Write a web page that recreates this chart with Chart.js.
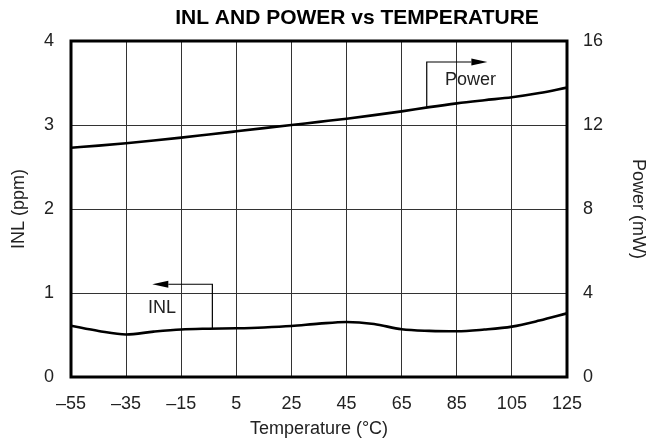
<!DOCTYPE html>
<html>
<head>
<meta charset="utf-8">
<script src="https://cdn.jsdelivr.net/npm/chart.js@4.4.0/dist/chart.umd.min.js"></script>
<style>
    html, body { margin: 0; padding: 0; background: #fff; }
    #wrap { width: 658px; height: 441px; }
</style>
</head>
<body>
<div id="wrap"><canvas id="inlChart" width="658" height="441"></canvas></div>
<script>
// temperature (°C)
var temps = [-55, -45, -35, -25, -15, -5, 5, 15, 25, 35, 45, 55, 65, 75, 85, 95, 105, 115, 125];
// INL (ppm), left axis
var inlValues = [0.61, 0.548, 0.506, 0.54, 0.566, 0.575, 0.58, 0.59, 0.607, 0.635, 0.655, 0.63, 0.568, 0.549, 0.544, 0.565, 0.60, 0.672, 0.758];
// Power (mW), right axis
var powerValues = [10.92, 11.02, 11.13, 11.26, 11.4, 11.55, 11.7, 11.85, 12.0, 12.15, 12.3, 12.47, 12.65, 12.85, 13.03, 13.18, 13.32, 13.52, 13.78];

var xTicks = [-55, -35, -15, 5, 25, 45, 65, 85, 105, 125];
var inlTicks = [0, 1, 2, 3, 4];
var powerTicks = [0, 4, 8, 12, 16];

var titleText = 'INL AND POWER vs TEMPERATURE';

// callout arrows, in data units
var inlCallout = { label: 'INL', axis: 'y', fromX: -3.7, fromY: 0.577, cornerY: 1.104, tipX: -25.5, textX: -22, textY: 0.818 };
var powerCallout = { label: 'Power', axis: 'y2', fromX: 74.1, fromY: 12.83, cornerY: 15.0, tipX: 96.1, textX: 90, textY: 14.14 };

function toPoints(xs, ys) {
    var pts = [];
    for (var i = 0; i < xs.length; i++) {
        pts.push({ x: xs[i], y: ys[i] });
    }
    return pts;
}

function dashNum(v) {
    return v < 0 ? '\u2013' + Math.abs(v) : '' + v;
}

function drawCallout(chart, c) {
    var ctx = chart.ctx;
    var xs = chart.scales.x, ys = chart.scales[c.axis];
    var x0 = xs.getPixelForValue(c.fromX);
    var y0 = ys.getPixelForValue(c.fromY);
    var y1 = ys.getPixelForValue(c.cornerY);
    var xt = xs.getPixelForValue(c.tipX);
    var dir = xt > x0 ? 1 : -1;
    var head = 16;

    ctx.strokeStyle = '#000';
    ctx.lineWidth = 1.2;
    ctx.beginPath();
    ctx.moveTo(x0, y0);
    ctx.lineTo(x0, y1);
    ctx.lineTo(xt - dir * head, y1);
    ctx.stroke();

    ctx.fillStyle = '#000';
    ctx.beginPath();
    ctx.moveTo(xt, y1);
    ctx.lineTo(xt - dir * head, y1 - 3.5);
    ctx.lineTo(xt - dir * head, y1 + 3.5);
    ctx.closePath();
    ctx.fill();

    ctx.fillStyle = '#222';
    ctx.font = '18px "Liberation Sans", Arial, sans-serif';
    ctx.textAlign = 'center';
    ctx.textBaseline = 'middle';
    ctx.fillText(c.label, xs.getPixelForValue(c.textX), ys.getPixelForValue(c.textY));
}

var extrasPlugin = {
    id: 'extras',
    afterDraw: function (chart) {
        var ctx = chart.ctx;
        var a = chart.chartArea;
        ctx.save();

        // plot frame
        ctx.strokeStyle = '#000';
        ctx.lineWidth = 3;
        ctx.strokeRect(a.left, a.top, a.right - a.left, a.bottom - a.top);

        drawCallout(chart, inlCallout);
        drawCallout(chart, powerCallout);

        // title
        ctx.fillStyle = '#000';
        ctx.font = 'bold 21px "Liberation Sans", Arial, sans-serif';
        ctx.textAlign = 'center';
        ctx.textBaseline = 'alphabetic';
        ctx.fillText(titleText, 357, 24);

        ctx.restore();
    }
};

Chart.defaults.font.family = '"Liberation Sans", Arial, sans-serif';
Chart.defaults.font.size = 18;
Chart.defaults.color = '#222';

new Chart(document.getElementById('inlChart').getContext('2d'), {
    type: 'line',
    data: {
        datasets: [{
            label: 'INL',
            data: toPoints(temps, inlValues),
            yAxisID: 'y',
            borderColor: '#000',
            borderWidth: 2.6,
            pointRadius: 0,
            tension: 0.4,
            cubicInterpolationMode: 'monotone'
        },
        {
            label: 'Power',
            data: toPoints(temps, powerValues),
            yAxisID: 'y2',
            borderColor: '#000',
            borderWidth: 2.6,
            pointRadius: 0,
            tension: 0.4,
            cubicInterpolationMode: 'monotone'
        }]
    },
    options: {
        responsive: false,
        animation: false,
        devicePixelRatio: 1,
        layout: { padding: { top: 41, left: 0, right: 0, bottom: 0 } },
        plugins: {
            legend: { display: false },
            tooltip: { enabled: false }
        },
        scales: {
            x: {
                type: 'linear',
                min: -55,
                max: 125,
                afterBuildTicks: function (s) {
                    s.ticks = xTicks.map(function (v) { return { value: v }; });
                },
                afterFit: function (s) { s.height = 64; },
                grid: { color: '#333', lineWidth: 1, drawTicks: false },
                border: { display: false },
                ticks: {
                    padding: 16,
                    maxRotation: 0,
                    autoSkip: false,
                    callback: function (v) { return dashNum(v); }
                },
                title: { display: true, text: 'Temperature (\u00B0C)', padding: { top: 0, bottom: 1 } }
            },
            y: {
                position: 'left',
                min: 0,
                max: 4,
                afterBuildTicks: function (s) {
                    s.ticks = inlTicks.map(function (v) { return { value: v }; });
                },
                afterFit: function (s) { s.width = 71; },
                grid: { color: '#333', lineWidth: 1, drawTicks: false },
                border: { display: false },
                ticks: { padding: 17 },
                title: { display: true, text: 'INL (ppm)', padding: { top: 8, bottom: 0 } }
            },
            y2: {
                position: 'right',
                min: 0,
                max: 16,
                afterBuildTicks: function (s) {
                    s.ticks = powerTicks.map(function (v) { return { value: v }; });
                },
                afterFit: function (s) { s.width = 91; },
                grid: { display: false, drawTicks: false },
                border: { display: false },
                ticks: { padding: 16 },
                title: { display: true, text: 'Power (mW)', padding: { top: 9, bottom: 0 } }
            }
        }
    },
    plugins: [extrasPlugin]
});
</script>
</body>
</html>
